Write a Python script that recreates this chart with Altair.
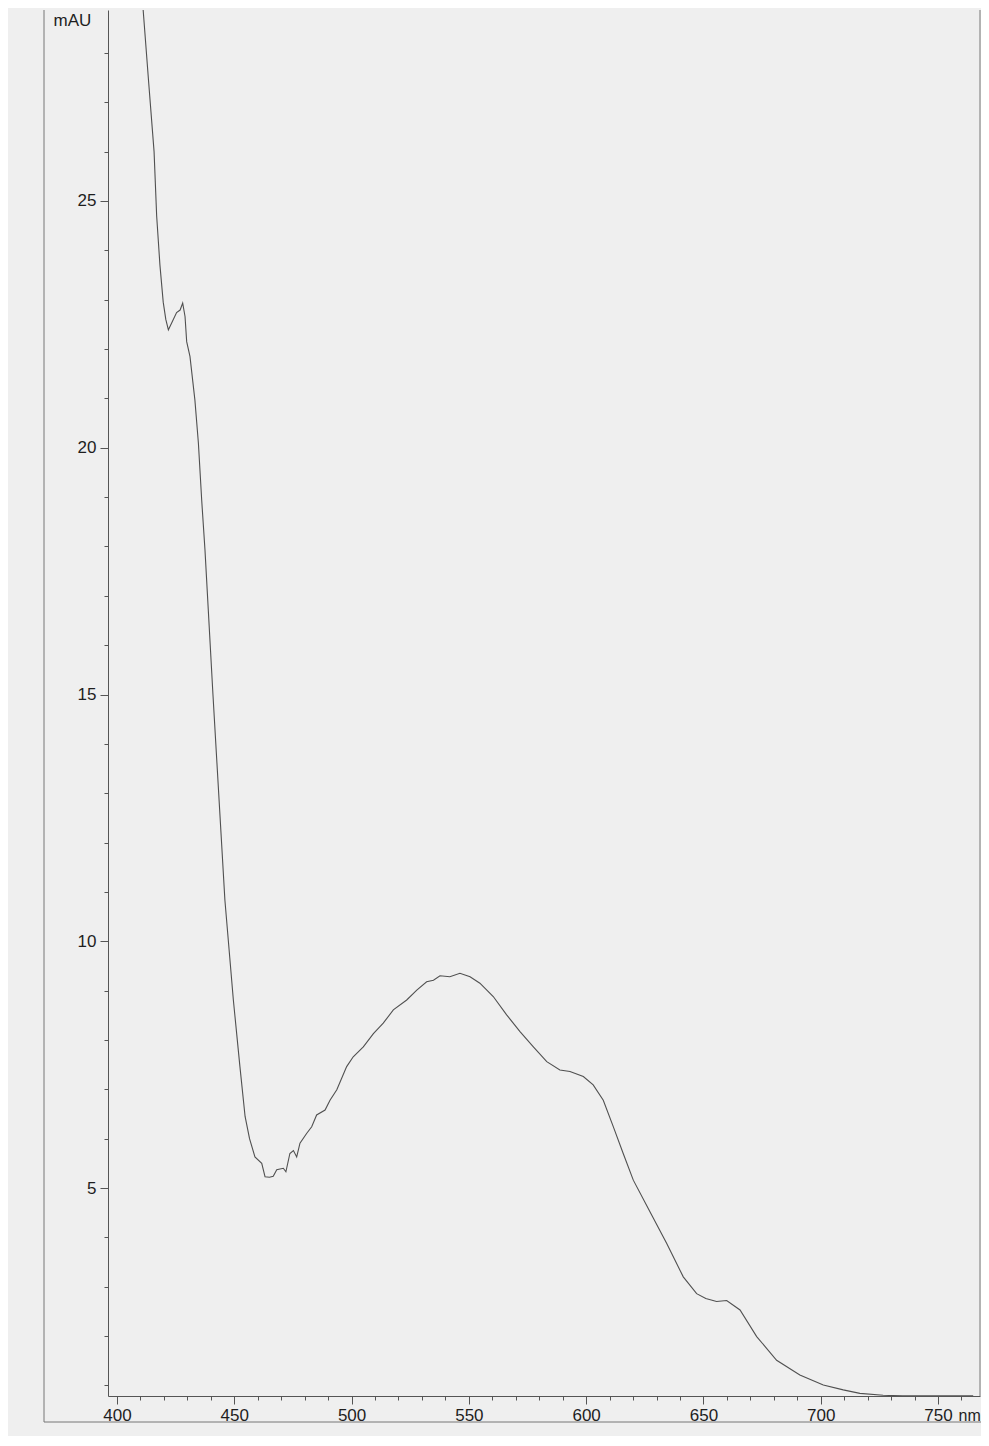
import altair as alt
import pandas as pd

# Spectrum (wavelength in nm, absorbance in mAU)
wavelength = [409.0, 411.1, 413.5, 415.8, 416.9, 418.3, 419.7, 420.8, 421.9, 423.5,
              425.4, 426.9, 428.0, 429.0, 429.7, 431.1, 433.2, 434.7, 436.1, 437.5,
              440.9, 446.0, 449.6, 452.4, 454.6, 456.5, 458.8, 461.7, 463.1, 465.0,
              466.6, 468.1, 470.9, 472.0, 473.7, 475.2, 476.6, 478.0, 480.9, 483.0,
              485.1, 488.7, 490.8, 493.7, 497.9, 500.7, 505.0, 509.3, 513.5, 517.8,
              523.5, 527.8, 532.0, 534.9, 537.7, 541.9, 546.2, 550.5, 554.7, 560.4,
              566.1, 571.8, 577.5, 583.2, 588.8, 593.1, 598.8, 603.0, 607.3, 611.6,
              615.8, 620.1, 627.2, 634.3, 641.4, 647.1, 651.0, 655.6, 659.9, 665.6,
              672.7, 681.2, 691.1, 701.1, 709.6, 716.7, 726.6, 735.0, 750.0, 765.0]
absorbance = [30.1, 28.9, 27.4, 26.0, 24.7, 23.7, 22.95, 22.6, 22.39, 22.55,
              22.74, 22.79, 22.93, 22.66, 22.15, 21.85, 20.97, 20.09, 18.94, 17.93,
              15.0, 10.83, 8.81, 7.46, 6.45, 6.0, 5.63, 5.50, 5.23, 5.22,
              5.24, 5.37, 5.40, 5.33, 5.70, 5.76, 5.63, 5.91, 6.11, 6.24,
              6.48, 6.58, 6.78, 6.99, 7.46, 7.66, 7.86, 8.13, 8.34, 8.61,
              8.81, 9.01, 9.18, 9.21, 9.30, 9.28, 9.35, 9.28, 9.15, 8.88,
              8.51, 8.17, 7.86, 7.56, 7.39, 7.36, 7.26, 7.09, 6.78, 6.24,
              5.70, 5.16, 4.52, 3.88, 3.20, 2.86, 2.76, 2.70, 2.72, 2.53,
              1.99, 1.51, 1.21, 1.01, 0.91, 0.84, 0.80, 0.79, 0.79, 0.79]

x_major = [400, 450, 500, 550, 600, 650, 700, 750]
x_minor = list(range(400, 771, 10))
y_major = [5, 10, 15, 20, 25]
y_minor = list(range(1, 29))

df = pd.DataFrame({"nm": wavelength, "mAU": absorbance})

W, H = 872, 1386
FONT = "Liberation Sans"
FS = 17
AX = "#555555"
TXT = "#1e1e1e"

xscale = alt.Scale(domain=[396.16, 767.9], nice=False, zero=False)
yscale = alt.Scale(domain=[0.786, 28.87], nice=False, zero=False)

line = alt.Chart(df).mark_line(color="#505050", strokeWidth=1.1, clip=True).encode(
    x=alt.X("nm:Q", scale=xscale,
            axis=alt.Axis(orient="bottom", values=x_major, tickSize=8, labelPadding=3,
                          labelFontSize=FS, labelFont=FONT, labelColor=TXT,
                          domainColor=AX, tickColor=AX, grid=False,
                          title="nm", titleFont=FONT, titleFontSize=16,
                          titleFontWeight="normal", titleColor=TXT,
                          titleX=850, titleY=19, titleAlign="left",
                          titleBaseline="middle", labelFlush=False)),
    y=alt.Y("mAU:Q", scale=yscale,
            axis=alt.Axis(orient="left", values=y_major, tickSize=8, labelPadding=4,
                          labelFontSize=FS, labelFont=FONT, labelColor=TXT,
                          domainColor=AX, tickColor=AX, grid=False,
                          title="mAU", titleFont=FONT, titleFontSize=FS,
                          titleFontWeight="normal", titleColor=TXT, titleAngle=0,
                          titleX=-55, titleY=10, titleAlign="left",
                          titleBaseline="middle", labelFlush=False)),
)

minor = alt.Chart(df).mark_point(opacity=0).encode(
    x=alt.X("nm:Q", scale=xscale,
            axis=alt.Axis(orient="bottom", values=x_minor, tickSize=4, labels=False,
                          domain=False, tickColor=AX, grid=False, title=None)),
    y=alt.Y("mAU:Q", scale=yscale,
            axis=alt.Axis(orient="left", values=y_minor, tickSize=4, labels=False,
                          domain=False, tickColor=AX, grid=False, title=None)),
)

frame_df = pd.DataFrame({"k": [0]})
right_border = alt.Chart(frame_df).mark_rule(color="#777777", strokeWidth=1).encode(
    x=alt.value(W), y=alt.value(0), y2=alt.value(H))
left_border = alt.Chart(frame_df).mark_rule(color="#777777", strokeWidth=1).encode(
    x=alt.value(-64), y=alt.value(0), y2=alt.value(H + 26))
bottom_border = alt.Chart(frame_df).mark_rule(color="#777777", strokeWidth=1).encode(
    x=alt.value(-64), x2=alt.value(W + 2), y=alt.value(H + 26))

chart = alt.layer(line, minor, right_border, left_border, bottom_border).resolve_axis(
    x="independent", y="independent"
).properties(
    width=W, height=H,
    autosize=alt.AutoSizeParams(type="none"),
    padding={"left": 100, "top": 2, "right": 1, "bottom": 40},
    background="#efefef",
).configure_view(stroke=None)

chart.save("out.html", embed_options={"renderer": "svg", "actions": False})
